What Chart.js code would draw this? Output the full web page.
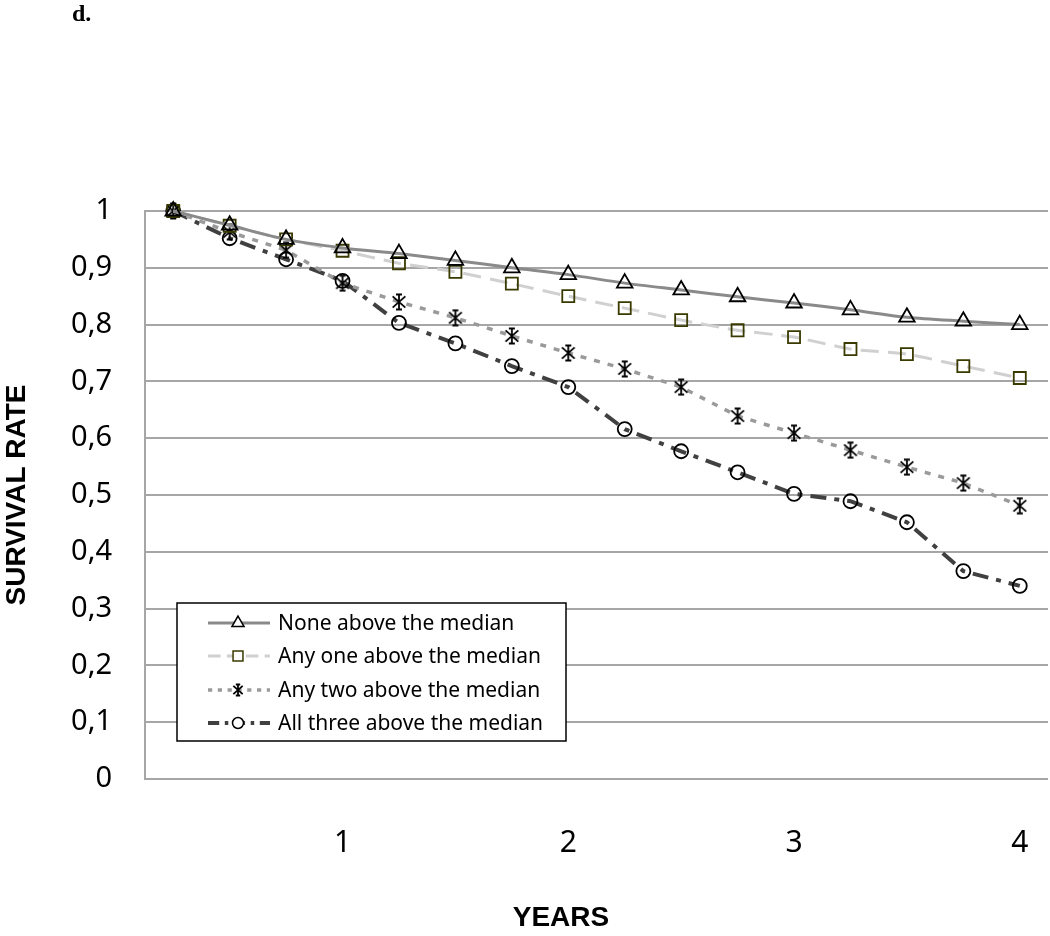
<!DOCTYPE html>
<html>
<head>
<meta charset="utf-8">
<script src="https://cdn.jsdelivr.net/npm/chart.js@4.4.1/dist/chart.umd.min.js"></script>
<style>
  html, body { margin: 0; padding: 0; background: #fff; }
  #wrap { width: 1050px; height: 936px; }
</style>
</head>
<body>
<div id="wrap"><canvas id="chart" width="1050" height="936"></canvas></div>
<script>
// data (survival by years of follow-up)
const years = [0.25, 0.5, 0.75, 1, 1.25, 1.5, 1.75, 2, 2.25, 2.5, 2.75, 3, 3.25, 3.5, 3.75, 4];
const xTickValues = [1, 2, 3, 4];
const seriesNames = ['None above the median', 'Any one above the median', 'Any two above the median', 'All three above the median'];
const noneAbove  = [1, 0.975, 0.95, 0.935, 0.925, 0.913, 0.9, 0.888, 0.873, 0.861, 0.849, 0.838, 0.826, 0.813, 0.806, 0.8];
const oneAbove   = [1, 0.974, 0.95, 0.93, 0.908, 0.893, 0.872, 0.85, 0.829, 0.808, 0.79, 0.778, 0.757, 0.748, 0.727, 0.706];
const twoAbove   = [1, 0.963, 0.931, 0.873, 0.84, 0.812, 0.78, 0.75, 0.722, 0.69, 0.639, 0.609, 0.579, 0.549, 0.521, 0.481];
const threeAbove = [1, 0.952, 0.915, 0.877, 0.803, 0.767, 0.727, 0.69, 0.616, 0.577, 0.54, 0.502, 0.489, 0.452, 0.366, 0.34];

const gridColor = '#a6a6a6';

// asterisk marker (vertical + diagonals, small caps top and bottom)
function makeAsterisk(size) {
  const c = document.createElement('canvas');
  c.width = size; c.height = size;
  const g = c.getContext('2d');
  const m = size / 2, r = size / 2 - 1.5;
  g.strokeStyle = '#000';
  g.lineWidth = 1.8;
  g.beginPath();
  g.moveTo(m, m - r); g.lineTo(m, m + r);
  g.moveTo(m - r * 0.85, m - r * 0.75); g.lineTo(m + r * 0.85, m + r * 0.75);
  g.moveTo(m + r * 0.85, m - r * 0.75); g.lineTo(m - r * 0.85, m + r * 0.75);
  g.moveTo(m - r * 0.4, m - r); g.lineTo(m + r * 0.4, m - r);
  g.moveTo(m - r * 0.4, m + r); g.lineTo(m + r * 0.4, m + r);
  g.stroke();
  return c;
}
const starBig = makeAsterisk(18);
const starSmall = makeAsterisk(14);

const toPoints = arr => years.map((x, i) => ({ x: x, y: arr[i] }));

const styles = [
  { color: '#8a8a8a', dash: [], tension: 0.3, width: 3, pointStyle: 'triangle', radius: 9, border: '#000' },
  { color: '#d0d0d0', dash: [18, 9], tension: 0.2, width: 3, pointStyle: 'rect', radius: 8.5, border: '#3a3a00' },
  { color: '#9a9a9a', dash: [6, 8], tension: 0, width: 3.5, pointStyle: starBig, radius: 8, border: '#000' },
  { color: '#404040', dash: [16, 8, 5, 8], tension: 0, width: 4, pointStyle: 'circle', radius: 7, border: '#000' }
];
const allValues = [noneAbove, oneAbove, twoAbove, threeAbove];

const datasets = allValues.map((vals, i) => ({
  label: seriesNames[i],
  data: toPoints(vals),
  borderColor: styles[i].color,
  borderWidth: styles[i].width,
  borderDash: styles[i].dash,
  tension: styles[i].tension,
  pointStyle: styles[i].pointStyle,
  pointRadius: styles[i].radius,
  pointBorderColor: styles[i].border,
  pointBorderWidth: 1.8,
  pointBackgroundColor: 'rgba(255,255,255,0)',
  fill: false,
  clip: false
}));

// legend box, panel letter and x title
const extras = {
  id: 'extras',
  afterDraw(chart) {
    const ctx = chart.ctx;
    ctx.save();
    ctx.fillStyle = '#000';
    ctx.font = 'bold 24px "Liberation Serif"';
    ctx.textBaseline = 'alphabetic';
    ctx.textAlign = 'left';
    ctx.fillText('d.', 72, 21);

    ctx.font = 'bold 28px "Liberation Sans"';
    ctx.textAlign = 'center';
    ctx.textBaseline = 'middle';
    ctx.fillText('YEARS', 561, 918);

    // legend
    const bx = 177, by = 603, bw = 389, bh = 138;
    ctx.fillStyle = '#fff';
    ctx.fillRect(bx, by, bw, bh);
    ctx.strokeStyle = '#000';
    ctx.lineWidth = 1.5;
    ctx.strokeRect(bx, by, bw, bh);
    const rows = [623, 656, 690, 723];
    const smallStyles = ['triangle', 'rect', starSmall, 'circle'];
    const smallR = [7, 7, 6, 5.5];
    styles.forEach((s, i) => {
      const y = rows[i];
      ctx.strokeStyle = s.color;
      ctx.lineWidth = s.width;
      ctx.setLineDash(s.dash.length ? s.dash.map(d => d * 0.7) : []);
      ctx.beginPath();
      ctx.moveTo(208, y);
      ctx.lineTo(270, y);
      ctx.stroke();
      ctx.setLineDash([]);
      ctx.fillStyle = '#fff';
      ctx.strokeStyle = s.border;
      ctx.lineWidth = 1.5;
      Chart.helpers.drawPoint(ctx, { pointStyle: smallStyles[i], radius: smallR[i], borderWidth: 1.5, rotation: 0 }, 238, y);
      ctx.fillStyle = '#000';
      ctx.font = '21px "Noto Sans"';
      ctx.textAlign = 'left';
      ctx.textBaseline = 'middle';
      ctx.fillText(seriesNames[i], 278, y + 1);
    });
    ctx.restore();
  }
};

new Chart(document.getElementById('chart').getContext('2d'), {
  type: 'line',
  data: { datasets: datasets },
  options: {
    responsive: false,
    animation: false,
    layout: { autoPadding: false, padding: { top: 211, right: 2, left: 0, bottom: 0 } },
    plugins: { legend: { display: false }, tooltip: { enabled: false } },
    scales: {
      x: {
        type: 'linear',
        min: 0.125,
        max: 4.125,
        afterBuildTicks: axis => { axis.ticks = xTickValues.map(v => ({ value: v })); },
        afterFit: axis => { axis.height = 157; axis.paddingLeft = 0; axis.paddingRight = 0; },
        grid: { display: false, drawTicks: false },
        border: { display: false },
        ticks: {
          padding: 0,
          color: '#000',
          // tall line box pushes the labels down without widening the side padding
          font: { family: '"Noto Sans"', size: 30, lineHeight: 4.27 },
          callback: v => String(v)
        }
      },
      y: {
        min: 0,
        max: 1,
        afterFit: axis => { axis.width = 145; },
        grid: { color: gridColor, lineWidth: 2, drawTicks: false },
        border: { display: true, color: gridColor, width: 2 },
        ticks: {
          stepSize: 0.1,
          padding: 33,
          color: '#000',
          font: { family: '"Noto Sans"', size: 29 },
          callback: v => String(Math.round(v * 10) / 10).replace('.', ',')
        },
        title: {
          display: true,
          text: 'SURVIVAL RATE',
          color: '#000',
          padding: 0,
          font: { family: '"Liberation Sans"', size: 28, weight: 'bold' }
        }
      }
    }
  },
  plugins: [extras]
});
</script>
</body>
</html>
